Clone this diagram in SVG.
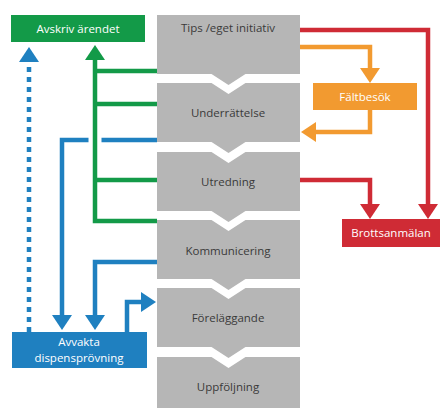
<svg xmlns="http://www.w3.org/2000/svg" width="441" height="410" viewBox="0 0 441 410">
<style>
.step{fill:#b6b6b6}
.st{font-family:"Open Sans","Noto Sans",sans-serif;font-size:11.5px;fill:#3a3a3a;text-anchor:middle}
.bt{font-family:"Open Sans","Noto Sans",sans-serif;font-size:11.5px;fill:#ffffff;text-anchor:middle}
.ln{fill:none;stroke-width:4.5;stroke-linejoin:miter}
.g{stroke:#139a48}
.b{stroke:#1f80c0}
.o{stroke:#f29a30}
.r{stroke:#cf2b35}
</style>
<defs>
<marker id="ag" markerUnits="userSpaceOnUse" markerWidth="15" markerHeight="20" refX="0" refY="10" orient="auto"><path d="M0,0 L15,10 L0,20 Z" fill="#139a48"/></marker>
<marker id="ab" markerUnits="userSpaceOnUse" markerWidth="15" markerHeight="20" refX="0" refY="10" orient="auto"><path d="M0,0 L15,10 L0,20 Z" fill="#1f80c0"/></marker>
<marker id="ao" markerUnits="userSpaceOnUse" markerWidth="15" markerHeight="20" refX="0" refY="10" orient="auto"><path d="M0,0 L15,10 L0,20 Z" fill="#f29a30"/></marker>
<marker id="ar" markerUnits="userSpaceOnUse" markerWidth="15" markerHeight="20" refX="0" refY="10" orient="auto"><path d="M0,0 L15,10 L0,20 Z" fill="#cf2b35"/></marker>
</defs>
<rect width="441" height="410" fill="#ffffff"/>

<g id="step1"><path class="step" d="M157,15 H300 V74 H245.5 L228.5,85 L211.5,74 H157 Z"/><text class="st" x="228" y="32">Tips /eget initiativ</text></g>
<g id="step2"><path class="step" d="M157,83 H211.5 L228.5,94 L245.5,83 H300 V142 H245.5 L228.5,153 L211.5,142 H157 Z"/><text class="st" x="228" y="117">Underrättelse</text></g>
<g id="step3"><path class="step" d="M157,152 H211.5 L228.5,163 L245.5,152 H300 V211 H245.5 L228.5,222 L211.5,211 H157 Z"/><text class="st" x="228" y="186">Utredning</text></g>
<g id="step4"><path class="step" d="M157,220 H211.5 L228.5,231 L245.5,220 H300 V279 H245.5 L228.5,290 L211.5,279 H157 Z"/><text class="st" x="228" y="255">Kommunicering</text></g>
<g id="step5"><path class="step" d="M157,288 H211.5 L228.5,299 L245.5,288 H300 V347 H245.5 L228.5,358 L211.5,347 H157 Z"/><text class="st" x="228" y="322">Föreläggande</text></g>
<g id="step6"><path class="step" d="M157,357 H211.5 L228.5,368 L245.5,357 H300 V408 H157 Z"/><text class="st" x="228" y="391">Uppföljning</text></g>

<g id="connectors">
<path class="ln b" d="M29,332 V62" stroke-dasharray="5,5" marker-end="url(#ab)"/>
<path class="ln b" d="M157,140 H62 V315" marker-end="url(#ab)"/>
<path class="ln b" d="M157,262 H95 V315" marker-end="url(#ab)"/>
<path class="ln b" d="M127,332 V302 H141" marker-end="url(#ab)"/>
<path d="M95,132 V148" stroke="#ffffff" stroke-width="13" fill="none"/>
<path class="ln g" d="M157,221 H95 V60" marker-end="url(#ag)"/>
<path class="ln g" d="M157,71 H95"/>
<path class="ln g" d="M157,104 H95"/>
<path class="ln g" d="M157,180 H95"/>
<path class="ln o" d="M300,47 H370 V68" marker-end="url(#ao)"/>
<path class="ln o" d="M370,110 V132 H316" marker-end="url(#ao)"/>
<path class="ln r" d="M300,30 H428 V204" marker-end="url(#ar)"/>
<path class="ln r" d="M300,180 H370 V204" marker-end="url(#ar)"/>
</g>

<g id="avskriv"><rect x="11" y="15" width="134" height="27" fill="#139a48"/><text class="bt" x="78" y="33">Avskriv ärendet</text></g>
<g id="faltbesok"><rect x="313" y="83" width="104" height="27" fill="#f29a30"/><text class="bt" x="365" y="101">Fältbesök</text></g>
<g id="brottsanmalan"><rect x="342" y="219" width="98" height="28" fill="#cf2b35"/><text class="bt" x="391" y="237">Brottsanmälan</text></g>
<g id="avvakta"><rect x="12" y="332" width="135" height="36" fill="#1f80c0"/><text class="bt" x="79" y="346">Avvakta</text><text class="bt" x="79" y="362">dispensprövning</text></g>
</svg>
